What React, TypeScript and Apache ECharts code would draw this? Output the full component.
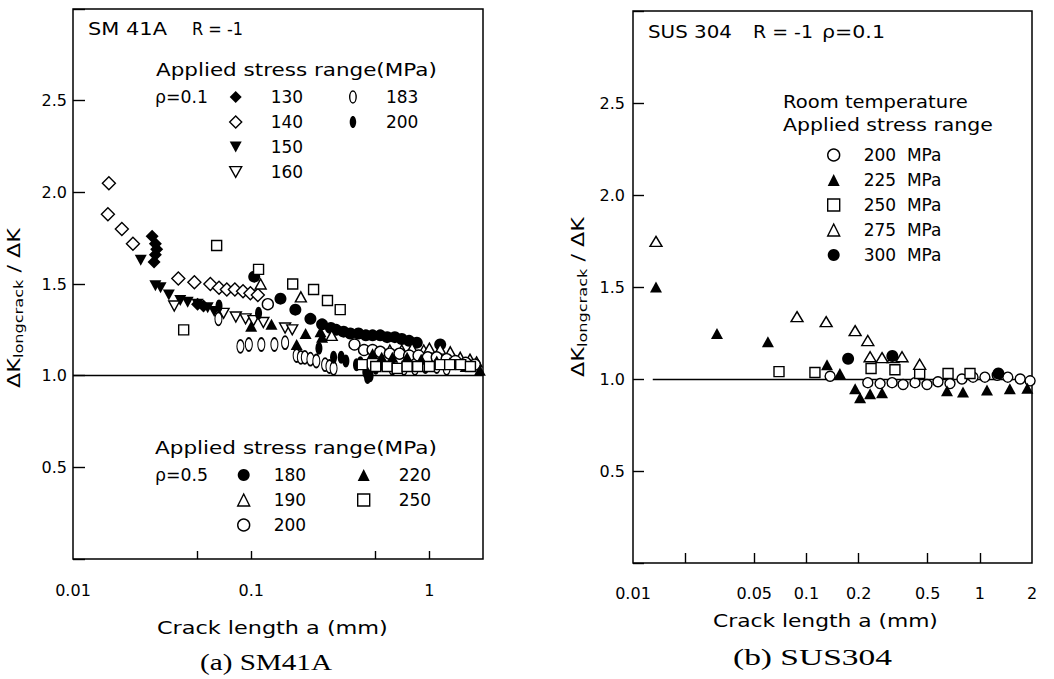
import React, { useEffect, useRef } from "react";
import * as echarts from "echarts";

// ---------------- (a) SM41A, R = -1 ----------------
// rho = 0.1, applied stress range (MPa)
const rho01_130 = [[0.0278, 1.76], [0.029, 1.72], [0.0295, 1.69], [0.029, 1.66], [0.0285, 1.62], [0.05, 1.39], [0.054, 1.38]];
const rho01_140 = [[0.0159, 2.05], [0.0157, 1.88], [0.0188, 1.8], [0.0217, 1.72], [0.039, 1.53], [0.048, 1.51], [0.059, 1.5], [0.066, 1.48], [0.073, 1.47], [0.081, 1.47], [0.09, 1.46], [0.099, 1.45], [0.109, 1.44]];
const rho01_150 = [[0.024, 1.63], [0.029, 1.49], [0.031, 1.48], [0.0345, 1.44], [0.04, 1.41], [0.044, 1.4], [0.05, 1.39], [0.057, 1.37], [0.062, 1.35]];
const rho01_160 = [[0.037, 1.38], [0.07, 1.34], [0.082, 1.32], [0.093, 1.31], [0.103, 1.3], [0.117, 1.29], [0.155, 1.26], [0.17, 1.25]];
const rho01_183 = [[0.0655, 1.31], [0.087, 1.16], [0.097, 1.17], [0.114, 1.17], [0.135, 1.17], [0.155, 1.18], [0.18, 1.11], [0.19, 1.1], [0.2, 1.1], [0.215, 1.09], [0.232, 1.08], [0.26, 1.06], [0.275, 1.05], [0.29, 1.04], [0.62, 1.04], [0.72, 1.04], [0.83, 1.04], [0.95, 1.05], [1.1, 1.05], [1.25, 1.04]];
const rho01_200 = [[0.066, 1.38], [0.11, 1.34], [0.24, 1.15], [0.29, 1.1], [0.32, 1.1], [0.34, 1.08], [0.39, 1.06], [0.41, 1.07], [0.44, 1.02], [0.45, 0.99], [0.465, 1.0], [0.5, 1.04], [0.55, 1.06]];
// rho = 0.5
const rho05_180 = [[0.104, 1.54], [0.146, 1.42], [0.177, 1.36], [0.215, 1.31], [0.25, 1.28], [0.28, 1.26], [0.3, 1.25], [0.33, 1.24], [0.36, 1.23], [0.4, 1.23], [0.44, 1.22], [0.48, 1.22], [0.53, 1.22], [0.58, 1.21], [0.64, 1.21], [0.7, 1.2], [0.77, 1.19], [0.85, 1.18], [1.15, 1.17]];
const rho05_190 = [[0.113, 1.5], [0.19, 1.43], [0.283, 1.22], [0.6, 1.14], [0.7, 1.14], [0.8, 1.15], [0.93, 1.14], [1.0, 1.15], [1.15, 1.145], [1.31, 1.13], [1.49, 1.1], [1.69, 1.09], [1.84, 1.075]];
const rho05_200 = [[0.124, 1.39], [0.38, 1.17], [0.43, 1.14], [0.48, 1.14], [0.53, 1.13], [0.6, 1.12], [0.68, 1.12], [0.77, 1.11], [0.87, 1.11], [0.98, 1.1], [1.1, 1.1], [1.25, 1.09], [1.4, 1.08], [1.6, 1.07], [1.8, 1.06]];
const rho05_220 = [[0.1, 1.27], [0.13, 1.28], [0.18, 1.17], [0.202, 1.23], [0.245, 1.24], [0.25, 1.21], [0.48, 1.12], [0.54, 1.1], [0.62, 1.1], [0.75, 1.1], [0.9, 1.09], [1.1, 1.08], [1.3, 1.07], [1.6, 1.05], [1.92, 1.03]];
const rho05_250 = [[0.0418, 1.25], [0.064, 1.71], [0.11, 1.58], [0.171, 1.5], [0.224, 1.47], [0.268, 1.41], [0.316, 1.36], [0.42, 1.06], [0.5, 1.05], [0.58, 1.05], [0.66, 1.04], [0.75, 1.05], [0.86, 1.05], [1.0, 1.05], [1.15, 1.06], [1.3, 1.06], [1.5, 1.06], [1.7, 1.05]];

// ---------------- (b) SUS304, R = -1, rho = 0.1 ----------------
const sus_200 = [[0.137, 1.015], [0.226, 0.98], [0.266, 0.975], [0.312, 0.98], [0.361, 0.97], [0.423, 0.98], [0.496, 0.97], [0.574, 0.985], [0.673, 0.975], [0.789, 1.0], [0.914, 1.01], [1.07, 1.01], [1.26, 1.02], [1.45, 1.01], [1.71, 1.0], [1.95, 0.99]];
const sus_225 = [[0.01357, 1.5], [0.0305, 1.247], [0.06, 1.203], [0.1315, 1.078], [0.156, 1.03], [0.191, 0.947], [0.204, 0.898], [0.233, 0.92], [0.273, 0.925], [0.647, 0.936], [0.8, 0.93], [1.1, 0.94], [1.49, 0.947], [1.88, 0.95]];
const sus_250 = [[0.0695, 1.04], [0.112, 1.035], [0.236, 1.057], [0.324, 1.05], [0.45, 1.03], [0.656, 1.03], [0.878, 1.03]];
const sus_275 = [[0.01357, 1.748], [0.0883, 1.339], [0.13, 1.312], [0.191, 1.263], [0.226, 1.209], [0.233, 1.121], [0.273, 1.116], [0.316, 1.116], [0.356, 1.121], [0.45, 1.08]];
const sus_300 = [[0.174, 1.11], [0.313, 1.125], [1.28, 1.03]];

// axis ticks / labels
const xTicksA = [0.05, 0.1, 0.5, 1];
const xLabelsA = [0.01, 0.1, 1];
const xTicksB = [0.02, 0.05, 0.1, 0.2, 0.5, 1];
const xLabelsB = [0.01, 0.05, 0.1, 0.2, 0.5, 1, 2];
const refLineB = [0.013, 2];

const SANS = '"DejaVu Sans", sans-serif';
const SERIF = '"Liberation Serif", serif';
const INK = "#000";
const INV_TRI = "path://M0,0 L10,0 L5,9 Z";
const ELLIPSE = "path://M3.5,0 C5.43,0 7,2.91 7,6.5 C7,10.09 5.43,13 3.5,13 C1.57,13 0,10.09 0,6.5 C0,2.91 1.57,0 3.5,0 Z";

type Spec = { id: string; label: string; grid: number; data: number[][]; symbol: string; size: number | number[]; filled: boolean };

const specs: Spec[] = [
  { id: "a01_130", label: "130", grid: 0, data: rho01_130, symbol: "diamond", size: 13, filled: true },
  { id: "a01_140", label: "140", grid: 0, data: rho01_140, symbol: "diamond", size: 13, filled: false },
  { id: "a01_150", label: "150", grid: 0, data: rho01_150, symbol: INV_TRI, size: [12, 11], filled: true },
  { id: "a01_160", label: "160", grid: 0, data: rho01_160, symbol: INV_TRI, size: [11, 10], filled: false },
  { id: "a01_183", label: "183", grid: 0, data: rho01_183, symbol: ELLIPSE, size: [7, 13], filled: false },
  { id: "a01_200", label: "200", grid: 0, data: rho01_200, symbol: ELLIPSE, size: [7, 13], filled: true },
  { id: "a05_180", label: "180", grid: 0, data: rho05_180, symbol: "circle", size: 12, filled: true },
  { id: "a05_190", label: "190", grid: 0, data: rho05_190, symbol: "triangle", size: [11, 10], filled: false },
  { id: "a05_200", label: "200", grid: 0, data: rho05_200, symbol: "circle", size: 11, filled: false },
  { id: "a05_220", label: "220", grid: 0, data: rho05_220, symbol: "triangle", size: [12, 11], filled: true },
  { id: "a05_250", label: "250", grid: 0, data: rho05_250, symbol: "rect", size: 10, filled: false },
  { id: "b_200", label: "200  MPa", grid: 1, data: sus_200, symbol: "circle", size: 10, filled: false },
  { id: "b_225", label: "225  MPa", grid: 1, data: sus_225, symbol: "triangle", size: [12, 11], filled: true },
  { id: "b_250", label: "250  MPa", grid: 1, data: sus_250, symbol: "rect", size: 10, filled: false },
  { id: "b_275", label: "275  MPa", grid: 1, data: sus_275, symbol: "triangle", size: [12, 10], filled: false },
  { id: "b_300", label: "300  MPa", grid: 1, data: sus_300, symbol: "circle", size: 12, filled: true },
];

const legendGroups = [
  { ids: ["a01_130", "a01_140", "a01_150", "a01_160"], left: 229, top: 84.5, pad: 24, lh: 25 },
  { ids: ["a01_183", "a01_200"], left: 349, top: 84.5, pad: 22, lh: 25 },
  { ids: ["a05_180", "a05_190", "a05_200"], left: 237, top: 462.5, pad: 19, lh: 25 },
  { ids: ["a05_220", "a05_250"], left: 357, top: 462.5, pad: 24, lh: 25 },
  { ids: ["b_200", "b_225", "b_250", "b_275", "b_300"], left: 827, top: 142.5, pad: 19, lh: 25 },
];

// free texts: [text, left x, center y, target width, font size, family]
const texts: [string, number, number, number, number, string][] = [
  ["SM 41A", 88, 29, 79, 17, SANS],
  ["R = -1", 192, 29, 51, 17, SANS],
  ["Applied stress range(MPa)", 156, 70, 281, 17, SANS],
  ["ρ=0.1", 155, 97, 53, 17, SANS],
  ["Applied stress range(MPa)", 155, 448, 282, 17, SANS],
  ["ρ=0.5", 155, 475, 53, 17, SANS],
  ["Crack length a (mm)", 157, 628, 231, 17, SANS],
  ["(a) SM41A", 200, 663, 132, 23, SERIF],
  ["SUS 304", 648, 32, 84, 17, SANS],
  ["R = -1", 753, 32, 60, 17, SANS],
  ["ρ=0.1", 822, 32, 63, 17, SANS],
  ["Room temperature", 783, 102, 185, 17, SANS],
  ["Applied stress range", 783, 125, 210, 17, SANS],
  ["Crack length a (mm)", 713, 621, 225, 17, SANS],
  ["(b) SUS304", 733, 657, 159, 23, SERIF],
];
const yTitles = [
  { x: 14, y: 308, len: 160 },
  { x: 578, y: 297, len: 160 },
];

const fmt = (v: number) => String(+Number(v).toPrecision(3));

export default function App() {
  const ref = useRef<HTMLDivElement>(null);
  useEffect(() => {
    if (!ref.current) return;
    const chart = echarts.init(ref.current, null, { renderer: "svg" });
    const ctx = document.createElement("canvas").getContext("2d")!;
    const measure = (t: string, size: number, fam: string) => {
      ctx.font = `${size}px ${fam}`;
      return ctx.measureText(t).width || 1;
    };
    const labelOf: Record<string, string> = {};
    specs.forEach((s) => (labelOf[s.id] = s.label));
    const styleOf = (s: Spec) =>
      s.filled
        ? { color: INK, borderColor: INK, borderWidth: 0, opacity: 1 }
        : { color: "#fff", borderColor: INK, borderWidth: 1.4, opacity: 1 };

    const series: any[] = specs.map((s) => ({
      type: "scatter",
      name: s.id,
      xAxisIndex: s.grid,
      yAxisIndex: s.grid,
      data: s.data,
      symbol: s.symbol,
      symbolSize: s.size,
      itemStyle: styleOf(s),
      emphasis: { disabled: true },
      z: 3,
    }));
    // reference lines at 1.0
    series[0].markLine = {
      silent: true,
      symbol: "none",
      z: 1,
      label: { show: false },
      lineStyle: { color: INK, width: 1.3, type: "solid", opacity: 1 },
      data: [{ yAxis: 1 }],
    };
    const firstB = specs.findIndex((s) => s.grid === 1);
    series[firstB].markLine = {
      silent: true,
      symbol: "none",
      z: 1,
      label: { show: false },
      lineStyle: { color: INK, width: 1.3, type: "solid", opacity: 1 },
      data: [[{ coord: [refLineB[0], 1] }, { coord: [refLineB[1], 1] }]],
    };

    const legend = legendGroups.map((g) => ({
      orient: "vertical",
      left: g.left,
      top: g.top,
      padding: 0,
      itemGap: 0,
      itemWidth: 12,
      itemHeight: 12,
      selectedMode: false,
      formatter: (n: string) => labelOf[n],
      textStyle: { fontFamily: SANS, fontSize: 17, color: INK, lineHeight: g.lh, padding: [0, 0, 0, g.pad] },
      data: g.ids.map((id) => {
        const s = specs.find((q) => q.id === id)!;
        return { name: id, icon: s.symbol, itemStyle: styleOf(s) };
      }),
    }));

    const graphic: any[] = texts.map(([t, x, y, w, size, fam]) => ({
      type: "text",
      x,
      y,
      scaleX: w / measure(t, size, fam),
      style: { text: t, fontSize: size, fontFamily: fam, fill: INK, align: "left", verticalAlign: "middle" },
      silent: true,
    }));
    const tw = measure("ΔK", 18, SANS) * 2 + measure("longcrack", 13, SANS) + measure(" / ", 18, SANS);
    yTitles.forEach((yt) => {
      graphic.push({
        type: "text",
        x: yt.x,
        y: yt.y,
        rotation: Math.PI / 2,
        scaleX: yt.len / tw,
        silent: true,
        style: {
          text: "{a|ΔK}{s|longcrack}{a| / ΔK}",
          align: "center",
          verticalAlign: "middle",
          fill: INK,
          rich: {
            a: { fontSize: 18, fontFamily: SANS, fill: INK, lineHeight: 22, verticalAlign: "middle" },
            s: { fontSize: 13, fontFamily: SANS, fill: INK, lineHeight: 10, verticalAlign: "bottom" },
          },
        },
      });
    });

    const xAxisOf = (gi: number, ticks: number[], labels: number[], tickLen: number, margin: number) => ({
      type: "log",
      logBase: 10,
      gridIndex: gi,
      min: 0.01,
      max: 2,
      axisLine: { show: false },
      splitLine: { show: false },
      axisTick: { show: true, inside: true, length: tickLen, lineStyle: { color: INK, width: 1.4 }, customValues: ticks },
      axisLabel: { customValues: labels, formatter: (v: number) => fmt(v), margin, fontSize: 16, fontFamily: SANS, color: INK },
    });
    const yAxisOf = (gi: number, tickLen: number, margin: number) => ({
      type: "value",
      gridIndex: gi,
      min: 0,
      max: 3,
      interval: 0.5,
      axisLine: { show: false },
      splitLine: { show: false },
      axisTick: { show: true, inside: true, length: tickLen, lineStyle: { color: INK, width: 1.4 } },
      axisLabel: {
        formatter: (v: number) => (v <= 0 || v >= 3 ? "" : v.toFixed(1)),
        margin,
        fontSize: 16,
        fontFamily: SANS,
        color: INK,
      },
    });

    chart.setOption({
      animation: false,
      backgroundColor: "#fff",
      grid: [
        { left: 73, top: 9, width: 410, height: 550, show: true, borderColor: INK, borderWidth: 1.5, containLabel: false, outerBoundsMode: "none" },
        { left: 633, top: 11, width: 399, height: 552, show: true, borderColor: INK, borderWidth: 1.5, containLabel: false, outerBoundsMode: "none" },
      ],
      xAxis: [xAxisOf(0, xTicksA, xLabelsA, 8, 23), xAxisOf(1, xTicksB, xLabelsB, 10, 22)],
      yAxis: [yAxisOf(0, 12, 6), yAxisOf(1, 11, 8)],
      legend,
      graphic,
      series,
    });
    return () => chart.dispose();
  }, []);
  return <div ref={ref} style={{ position: "absolute", left: 0, top: 0, width: 1054, height: 679, background: "#fff" }} />;
}
